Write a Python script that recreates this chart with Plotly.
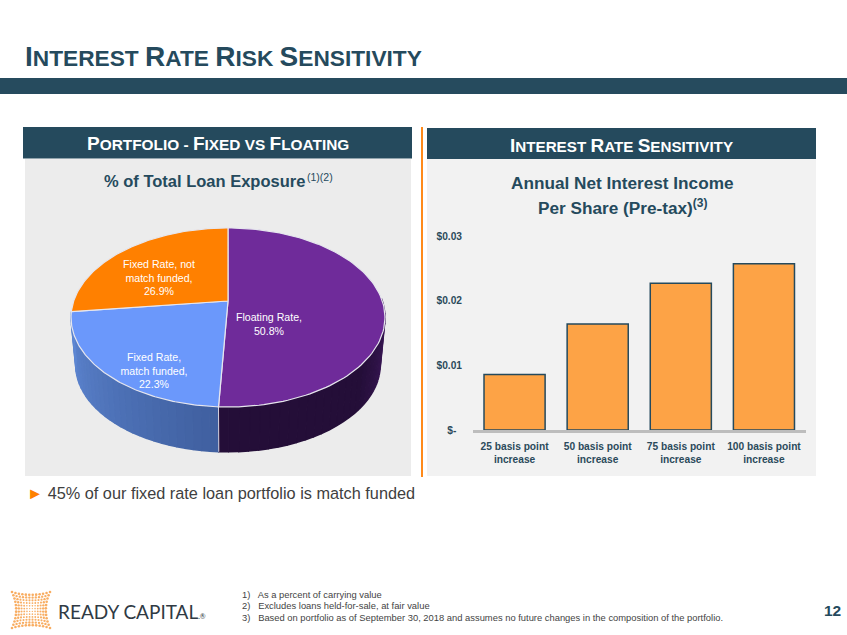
import numpy as np
import plotly.graph_objects as go

# ---- data ----
pie_labels = ["Floating Rate,<br>50.8%", "Fixed Rate,<br>match funded,<br>22.3%", "Fixed Rate, not<br>match funded,<br>26.9%"]
pie_values = [50.8, 22.3, 26.9]
pie_colors = ["#6f2b9a", "#6b98fb", "#ff8000"]
bar_categories = ["25 basis point<br>increase", "50 basis point<br>increase", "75 basis point<br>increase", "100 basis point<br>increase"]
bar_values = [0.0086, 0.0164, 0.0227, 0.0257]
y_tick_values = [0, 0.01, 0.02, 0.03]
y_tick_labels = ["$-\u00a0\u00a0", "$0.01", "$0.02", "$0.03"]
footnotes = ["1)   As a percent of carrying value",
             "2)   Excludes loans held-for-sale, at fair value",
             "3)   Based on portfolio as of September 30, 2018 and assumes no future changes in the composition of the portfolio."]

W, H = 847, 635
NAVY = "#254a5d"
SANS = "Liberation Sans"

def fx(px): return px / W
def fy(py): return 1 - py / H

fig = go.Figure()

def rect(x0, y0, x1, y1, color):
    fig.add_shape(type="rect", xref="paper", yref="paper", x0=fx(x0), x1=fx(x1), y0=fy(y0), y1=fy(y1),
                  fillcolor=color, line_width=0, layer="below")

def text(x, y, s, size, color, font=SANS, anchor="center", bold=False):
    fig.add_annotation(xref="paper", yref="paper", x=fx(x), y=fy(y), text=f"<b>{s}</b>" if bold else s,
                       showarrow=False, xanchor=anchor, yanchor="middle", align="center" if anchor == "center" else "left",
                       font=dict(family=font, size=size, color=color))

def smallcaps(s, big, small):
    out = []
    for w in s.split(" "):
        if w == "-":
            out.append(f'<span style="font-size:{small}px">-</span>')
        elif w == "vs":
            out.append(f'<span style="font-size:{small}px">VS</span>')
        else:
            out.append(f'<span style="font-size:{big}px">{w[0]}</span><span style="font-size:{small}px">{w[1:].upper()}</span>')
    return " ".join(out)

# ---- page furniture ----
rect(0, 78, W, 94, "#264b5e")
rect(25, 159, 411, 476, "#ececec")
rect(427, 159, 816, 476, "#f2f2f2")
rect(23, 127, 412, 158.5, NAVY)
rect(427, 128, 816, 159, NAVY)
rect(421, 127, 423, 477, "#ff8a1a")

text(23, 56.5, smallcaps("Interest Rate Risk Sensitivity", 28, 22.7), 22.7, NAVY, anchor="left", bold=True)
text(217.5, 143.5, smallcaps("Portfolio - Fixed vs Floating", 19, 15.4), 15.4, "white", bold=True)
text(621.5, 145, smallcaps("Interest Rate Sensitivity", 19, 15.2), 15.2, "white", bold=True)

text(204, 181, '% of Total Loan Exposure', 16.5, NAVY, bold=True)
text(320, 177, '(1)(2)', 10.5, NAVY)
text(622, 183.5, "Annual Net Interest Income", 17.2, NAVY, bold=True)
text(622, 207.5, 'Per Share (Pre-tax)<sup>(3)</sup>', 17.2, NAVY, bold=True)

text(25, 493, '<span style="color:#ff8000">►</span> 45% of our fixed rate loan portfolio is match funded', 16.3, "#404040", anchor="left")
for line, yy in zip(footnotes, [594, 605.5, 617.5]):
    text(240, yy, line, 9.4, "#444444", anchor="left")
text(832, 610, "12", 15.5, NAVY, bold=True)
text(56, 611, 'READY CAPITAL<span style="font-size:7px">.®</span>', 19, "#2f3a44", font="Lato", anchor="left")

# ---- logo dots ----
cols = np.linspace(-1, 1, 12)
rows = np.linspace(-1, 1, 12)
lx, ly, ls = [], [], []
for u in cols:
    for v in rows:
        lx.append(31 + 19 * u * (0.78 + 0.22 * v * v))
        ly.append(610 + 18 * v * (0.84 + 0.16 * u * u))
        ls.append(1.2 + 1.4 * max(abs(u), abs(v)))
fig.add_trace(go.Scatter(x=lx, y=ly, mode="markers", xaxis="x3", yaxis="y3",
                         marker=dict(color="#f58a1f", size=ls, line_width=0), hoverinfo="skip", showlegend=False))

# ---- 3D pie (perspective projection of the values' angular sweep) ----
APEX_X, APEX_Y = 228, 301
K, A, B = 0.184, 86.5, 154.3
BOTTOM_APEX, BOTTOM_SCALE = 349, 0.97

def rim(theta, bottom=False):
    u, v = np.sin(theta), np.cos(theta)
    d = 1 + K * v
    X, Y = B * u / d, A * v / d
    if bottom:
        return APEX_X + BOTTOM_SCALE * X, BOTTOM_APEX - BOTTOM_SCALE * Y
    return APEX_X + X, APEX_Y - Y

def lerp(c0, c1, t):
    return "rgb(%d,%d,%d)" % tuple(round(a + (b - a) * t) for a, b in zip(c0, c1))

cum = np.cumsum([0] + pie_values) / sum(pie_values) * 2 * np.pi
wall_colors = [((0x42, 0x1c, 0x62), (0x24, 0x0e, 0x38)), ((0x3f, 0x5f, 0x9f), (0x5f, 0x88, 0xd4)), None]
vis_lo, vis_hi = np.pi / 2 - 0.03, 3 * np.pi / 2 + 0.12

def poly(xs, ys, color, line=None, width=None):
    fig.add_trace(go.Scatter(x=xs, y=ys, mode="lines", fill="toself", fillcolor=color, xaxis="x3", yaxis="y3",
                             line=dict(color=line or color, width=width), hoverinfo="skip", showlegend=False))

# side walls, split into narrow strips so the shading runs along the rim
for i, cols_ in enumerate(wall_colors):
    if cols_ is None:
        continue
    a0, a1 = max(cum[i], vis_lo), min(cum[i + 1], vis_hi)
    n = 30
    edges = np.linspace(a0, a1, n + 1)
    for j in range(n):
        t = np.linspace(edges[j], edges[j + 1], 4)
        tx, ty = rim(t)
        bx, by = rim(t[::-1], bottom=True)
        f = (j + 0.5) / n if i == 1 else min(1, (j + 0.5) / n * 2.2)
        poly(list(tx) + list(bx), list(ty) + list(by), lerp(cols_[0], cols_[1], f), width=1.5)

# seam between the two visible wall slices
sx0, sy0 = rim(cum[1]); sx1, sy1 = rim(cum[1], bottom=True)
fig.add_trace(go.Scatter(x=[sx0, sx1], y=[sy0, sy1], mode="lines", xaxis="x3", yaxis="y3",
                         line=dict(color="#d8d4e0", width=1), hoverinfo="skip", showlegend=False))

# top face
for i, c in enumerate(pie_colors):
    t = np.linspace(cum[i], cum[i + 1], 120)
    rx, ry = rim(t)
    poly([APEX_X] + list(rx) + [APEX_X], [APEX_Y] + list(ry) + [APEX_Y], c, line="#e6e6ee", width=1.2)

label_pos = [(269, 325), (154, 372), (159, 279)]
fig.add_trace(go.Scatter(x=[p[0] for p in label_pos], y=[p[1] for p in label_pos], mode="text", text=pie_labels,
                         xaxis="x3", yaxis="y3", textposition="middle center",
                         textfont=dict(family=SANS, size=10.6, color="white"), hoverinfo="skip", showlegend=False))

# ---- bars ----
fig.add_trace(go.Bar(x=bar_categories, y=bar_values, width=0.735, marker=dict(color="#fda346", line=dict(color=NAVY, width=1.5)),
                     xaxis="x", yaxis="y", hoverinfo="skip", showlegend=False))

fig.update_layout(
    template="none",
    width=W, height=H, autosize=False, margin=dict(l=0, r=0, t=0, b=0, pad=0),
    paper_bgcolor="white", plot_bgcolor="rgba(0,0,0,0)", bargap=0.26,
    xaxis=dict(domain=[fx(473), fx(805.5)], anchor="y", type="category", showgrid=False, zeroline=False, automargin=False,
               ticks="", showline=True, linecolor="#bdbdbd", linewidth=2.5, ticklabelstandoff=5,
               tickfont=dict(family=SANS, size=10.2, weight="bold", color="#2b4a5b")),
    yaxis=dict(domain=[fy(430), fy(236)], anchor="x", range=[0, 0.03], tickvals=y_tick_values, ticktext=y_tick_labels,
               showgrid=False, zeroline=False, showline=False, ticks="", ticklabelstandoff=10, automargin=False,
               tickfont=dict(family=SANS, size=10.2, weight="bold", color="#2b4a5b")),
    xaxis3=dict(domain=[0, 1], range=[0, W], visible=False, fixedrange=True, automargin=False),
    yaxis3=dict(domain=[0, 1], range=[H, 0], visible=False, fixedrange=True, automargin=False),
)
fig.write_html("out.html", config=dict(displayModeBar=False),
               post_script="document.body.style.margin='0';var g=document.getElementById('{plot_id}');g.style.position='fixed';g.style.left='0';g.style.top='0';")
